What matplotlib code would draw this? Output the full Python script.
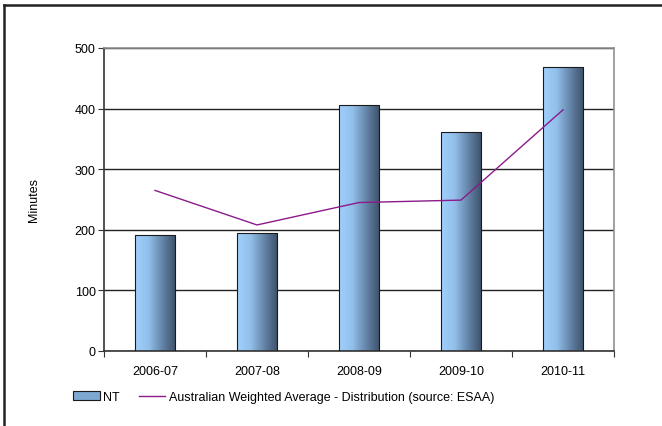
import numpy as np
import matplotlib.pyplot as plt
from matplotlib.colors import LinearSegmentedColormap
from matplotlib.lines import Line2D

plt.rcParams['font.family'] = ['Liberation Sans', 'DejaVu Sans']

years = ['2006-07', '2007-08', '2008-09', '2009-10', '2010-11']
nt = [192, 194, 406, 361, 468]
aus_avg = [265, 208, 245, 249, 398]

W, H = 662, 427
fig = plt.figure(figsize=(W / 100, H / 100), dpi=100)
ax = fig.add_axes([104 / W, 1 - 352 / H, 510 / W, 303 / H])

x = np.arange(len(years))
bars = ax.bar(x, nt, width=0.4, color='none', edgecolor='#1a1a1a', linewidth=0.8, zorder=3)

# horizontal gradient inside each bar
cmap = LinearSegmentedColormap.from_list('bar', ['#a0d0ff', '#92bfea', '#6485a8', '#3c5068'])
grad = np.linspace(0, 1, 256).reshape(1, -1)
for b in bars:
    bx, by = b.get_x(), b.get_y()
    bw, bh = b.get_width(), b.get_height()
    im = ax.imshow(grad, cmap=cmap, aspect='auto', extent=[bx, bx + bw, by, by + bh], zorder=2.5)
    im.set_clip_path(b)

ax.plot(x, aus_avg, color='#8b1a8b', linewidth=1.0, zorder=4)

ax.set_xlim(-0.5, len(years) - 0.5)
ax.set_ylim(0, 500)
ax.set_yticks(range(0, 501, 100))
ax.set_xticks(np.arange(-0.5, len(years), 1.0))
ax.set_xticklabels([])
ax.set_xticks(x, minor=True)
ax.set_xticklabels(years, minor=True)
ax.tick_params(axis='x', which='minor', length=0, pad=10, labelsize=9)
ax.tick_params(axis='x', which='major', length=4, direction='out', color='#333333')
ax.tick_params(axis='y', length=4, direction='out', color='#333333', labelsize=9, pad=2)
ax.yaxis.grid(True, color='#222222', linewidth=1.0, zorder=0)
ax.set_axisbelow(True)
for s in ['top', 'right']:
    ax.spines[s].set_color('#909090')
    ax.spines[s].set_linewidth(1.2)
for s in ['left', 'bottom']:
    ax.spines[s].set_color('#333333')
    ax.spines[s].set_linewidth(1.2)
ax.set_ylabel('Minutes', fontsize=9, labelpad=25)

# legend
handles = [plt.Rectangle((0, 0), 1, 1, facecolor='#7fa8d0', edgecolor='#1a1a1a', linewidth=0.8),
           Line2D([0], [0], color='#8b1a8b', linewidth=1.0)]
fig.legend(handles, ['NT', 'Australian Weighted Average - Distribution (source: ESAA)'],
           loc='center left', bbox_to_anchor=(62 / W, 1 - 398 / H), ncol=2, frameon=False,
           fontsize=9, handlelength=2.1, handletextpad=0.3, columnspacing=1.5)

# outer chart frame (cropped)
fig.add_artist(Line2D([4 / W, 4 / W], [0, 1 - 6 / H], color='#222222', linewidth=1.8))
fig.add_artist(Line2D([4 / W, 1], [1 - 6 / H, 1 - 6 / H], color='#222222', linewidth=1.8))

fig.savefig('out.png', dpi=100)
